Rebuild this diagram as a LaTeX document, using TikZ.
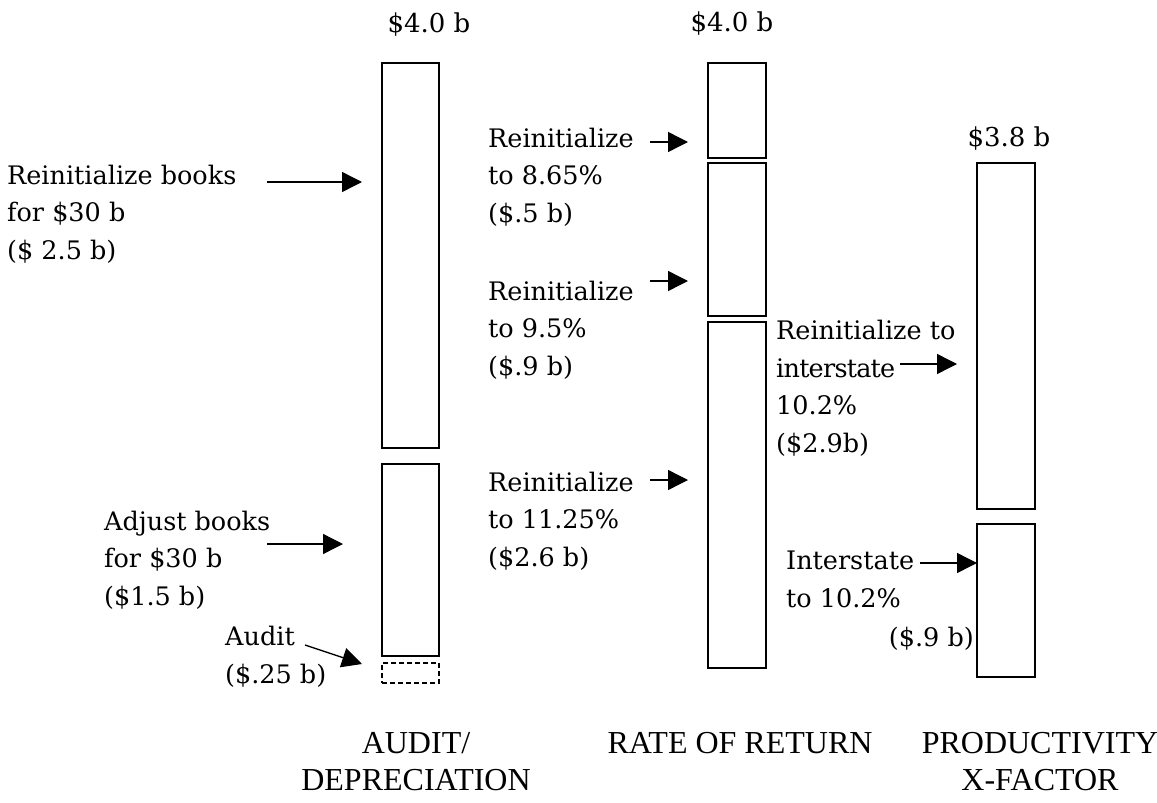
\documentclass[tikz,border=0pt]{standalone}
\usepackage{fontspec}
\setmainfont{DejaVu Serif}
\newfontfamily\capfont{Liberation Serif}
\newfontfamily\tightfont[LetterSpace=-3]{DejaVu Serif}
\usetikzlibrary{arrows.meta}
\begin{document}
\begin{tikzpicture}[x=1pt,y=-1pt,
  bar/.style={draw, line width=1.8pt, inner sep=0pt, outer sep=0pt, anchor=north west, minimum width=57pt},
  lbl/.style={font=\fontsize{25.5}{37.5}\selectfont, align=left, inner sep=0pt, anchor=base west},
  ttl/.style={font=\fontsize{26}{30}\selectfont, inner sep=0pt, anchor=base},
  axislbl/.style={font=\capfont\fontsize{32}{37}\selectfont, align=center, inner sep=0pt, anchor=base},
  arr/.style={line width=1.4pt, -{Triangle[length=20pt,width=20pt]}}]
\useasboundingbox (0,0) rectangle (1157,803);

% column 1: audit / depreciation
\node[bar, minimum height=385pt] (a1) at (382,63) {};
\node[bar, minimum height=192pt] (a2) at (382,464) {};
\node[bar, minimum height=20pt, dashed, line width=1.4pt, dash pattern=on 5pt off 3pt] (a3) at (382,663) {};
\node[ttl] (ta) at (429,32) {\$4.0 b};

% column 2: rate of return
\node[bar, minimum height=95pt, minimum width=58pt] (m1) at (708,63) {};
\node[bar, minimum height=153pt, minimum width=58pt] (m2) at (708,163) {};
\node[bar, minimum height=346pt, minimum width=58pt] (m3) at (708,322) {};
\node[ttl] (tm) at (732,31) {\$4.0 b};

% column 3: productivity
\node[bar, minimum height=346pt, minimum width=58pt] (r1) at (977,163) {};
\node[bar, minimum height=153pt, minimum width=58pt] (r2) at (977,524) {};
\node[ttl] (tr) at (1009,146) {\$3.8 b};

% labels (anchor = baseline of last line)
\node[lbl] (la1) at (7,259) {Reinitialize books\\for \$30 b\\(\$ 2.5 b)};
\node[lbl] (la2) at (104,605) {Adjust books\\for \$30 b\\(\$1.5 b)};
\node[lbl] (la3) at (225,683) {Audit\\(\$.25 b)};

\node[lbl] (lm1) at (488,222) {Reinitialize\\to 8.65\%\\(\$.5 b)};
\node[lbl] (lm2) at (488,375) {Reinitialize\\to 9.5\%\\(\$.9 b)};
\node[lbl] (lm3) at (488,566) {Reinitialize\\to 11.25\%\\(\$2.6 b)};

\node[lbl] (lr1) at (776,452) {Reinitialize to\\{\tightfont interstate}\\10.2\%\\(\$2.9b)};
\node[lbl] (lr2) at (786,607) {Interstate\\to 10.2\%};
\node[lbl, anchor=base east] (lr3) at (974,646) {(\$.9 b)};

% axis labels
\node[axislbl] (xa) at (416,790) {AUDIT/\\DEPRECIATION};
\node[axislbl] (xm) at (740,753) {RATE OF RETURN};
\node[axislbl] (xr) at (1040,790) {PRODUCTIVITY\\X-FACTOR};

% arrow ends
\coordinate (s1) at (267,182); \coordinate (e1) at (362,182);
\coordinate (s2) at (267,544); \coordinate (e2) at (343,544);
\coordinate (s3) at (305,645); \coordinate (e3) at (362,664);
\coordinate (s4) at (650,142); \coordinate (e4) at (688,142);
\coordinate (s5) at (650,281); \coordinate (e5) at (688,281);
\coordinate (s6) at (650,480); \coordinate (e6) at (688,480);
\coordinate (s7) at (900,364); \coordinate (e7) at (957,364);
\coordinate (s8) at (920,563);

\draw[arr] (s1) -- (e1);
\draw[arr] (s2) -- (e2);
\draw[arr] (s3) -- (e3);
\draw[arr] (s4) -- (e4);
\draw[arr] (s5) -- (e5);
\draw[arr] (s6) -- (e6);
\draw[arr] (s7) -- (e7);
\draw[arr] (s8) -- (s8 -| r2.west);
\end{tikzpicture}
\end{document}
